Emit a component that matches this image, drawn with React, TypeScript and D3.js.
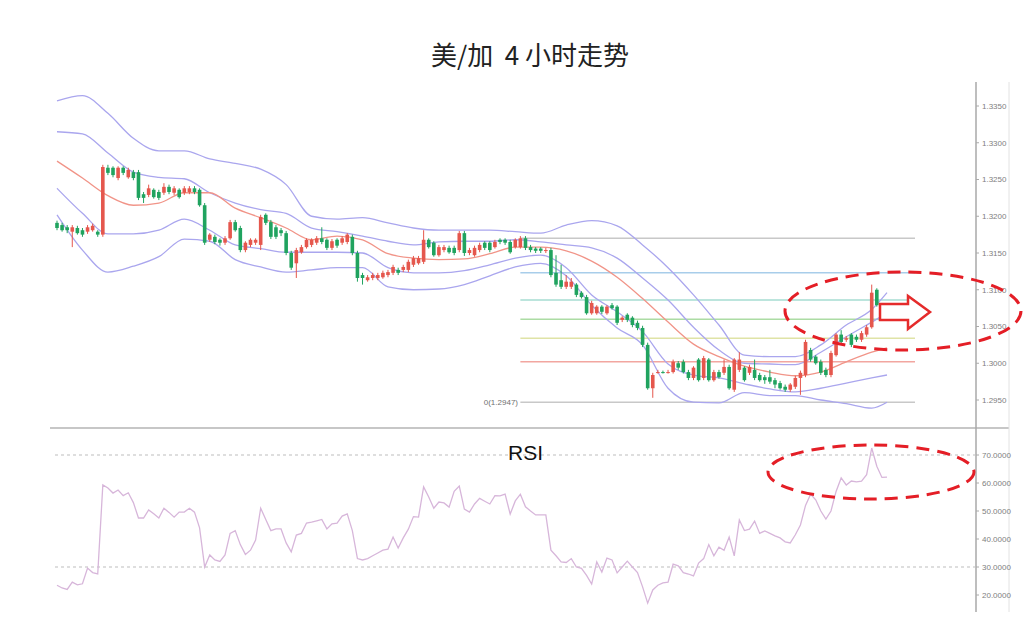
import React from "react";
import * as d3 from "d3";

// ---------- DATA ----------
// candles: [open, high, low, close]
const candles: number[][] = [
  [1.3191,1.3194,1.3181,1.3184],[1.3188,1.3191,1.3179,1.3181],[1.3185,1.3188,1.3177,1.3181],[1.3179,1.3188,1.3158,1.3185],
  [1.3184,1.3187,1.3175,1.3177],[1.3181,1.3184,1.3172,1.3175],[1.3179,1.3188,1.3176,1.3185],[1.3181,1.3190,1.3179,1.3187],
  [1.3179,1.3181,1.3172,1.3175],[1.3175,1.3270,1.3172,1.3267],[1.3266,1.3270,1.3256,1.3259],[1.3266,1.3268,1.3253,1.3256],
  [1.3252,1.3268,1.3249,1.3266],[1.3266,1.3268,1.3256,1.3259],[1.3253,1.3266,1.3251,1.3263],[1.3260,1.3263,1.3249,1.3252],
  [1.3260,1.3263,1.3222,1.3225],[1.3230,1.3233,1.3218,1.3225],[1.3229,1.3243,1.3226,1.3238],[1.3236,1.3238,1.3224,1.3226],
  [1.3233,1.3236,1.3222,1.3225],[1.3232,1.3245,1.3229,1.3240],[1.3240,1.3243,1.3230,1.3233],[1.3232,1.3241,1.3229,1.3238],
  [1.3236,1.3238,1.3224,1.3226],[1.3232,1.3241,1.3229,1.3238],[1.3233,1.3241,1.3230,1.3238],[1.3238,1.3241,1.3230,1.3233],
  [1.3236,1.3238,1.3213,1.3215],[1.3215,1.3218,1.3161,1.3164],[1.3168,1.3177,1.3165,1.3175],[1.3172,1.3175,1.3162,1.3165],
  [1.3168,1.3170,1.3160,1.3164],[1.3164,1.3173,1.3161,1.3170],[1.3170,1.3195,1.3168,1.3192],[1.3192,1.3195,1.3179,1.3181],
  [1.3184,1.3187,1.3151,1.3154],[1.3154,1.3166,1.3151,1.3164],[1.3161,1.3170,1.3158,1.3168],[1.3164,1.3170,1.3161,1.3168],
  [1.3161,1.3202,1.3154,1.3199],[1.3202,1.3204,1.3188,1.3191],[1.3192,1.3195,1.3169,1.3172],[1.3185,1.3188,1.3169,1.3172],
  [1.3181,1.3184,1.3173,1.3177],[1.3177,1.3180,1.3147,1.3150],[1.3150,1.3153,1.3127,1.3130],[1.3136,1.3157,1.3116,1.3154],
  [1.3151,1.3161,1.3149,1.3158],[1.3158,1.3170,1.3156,1.3168],[1.3161,1.3170,1.3158,1.3168],[1.3164,1.3173,1.3161,1.3170],
  [1.3170,1.3185,1.3162,1.3165],[1.3168,1.3170,1.3154,1.3157],[1.3157,1.3169,1.3154,1.3166],[1.3168,1.3170,1.3157,1.3160],
  [1.3164,1.3173,1.3161,1.3170],[1.3165,1.3177,1.3162,1.3175],[1.3172,1.3175,1.3147,1.3150],[1.3150,1.3153,1.3111,1.3116],
  [1.3120,1.3123,1.3107,1.3116],[1.3113,1.3120,1.3111,1.3117],[1.3116,1.3123,1.3113,1.3120],[1.3116,1.3123,1.3113,1.3120],
  [1.3117,1.3126,1.3115,1.3123],[1.3120,1.3127,1.3117,1.3124],[1.3123,1.3134,1.3120,1.3131],[1.3127,1.3130,1.3120,1.3123],
  [1.3127,1.3134,1.3124,1.3131],[1.3127,1.3141,1.3124,1.3138],[1.3134,1.3146,1.3131,1.3143],[1.3136,1.3146,1.3134,1.3143],
  [1.3138,1.3181,1.3135,1.3168],[1.3168,1.3170,1.3156,1.3158],[1.3164,1.3166,1.3145,1.3147],[1.3147,1.3161,1.3145,1.3158],
  [1.3154,1.3161,1.3151,1.3158],[1.3157,1.3160,1.3149,1.3151],[1.3157,1.3160,1.3147,1.3150],[1.3154,1.3180,1.3151,1.3177],
  [1.3177,1.3180,1.3146,1.3150],[1.3150,1.3157,1.3147,1.3154],[1.3147,1.3160,1.3145,1.3157],[1.3154,1.3164,1.3151,1.3161],
  [1.3164,1.3166,1.3154,1.3157],[1.3164,1.3166,1.3151,1.3154],[1.3158,1.3168,1.3156,1.3165],[1.3168,1.3170,1.3162,1.3165],
  [1.3168,1.3170,1.3161,1.3164],[1.3165,1.3168,1.3149,1.3151],[1.3158,1.3170,1.3156,1.3168],[1.3158,1.3173,1.3156,1.3170],
  [1.3170,1.3173,1.3154,1.3157],[1.3158,1.3161,1.3151,1.3154],[1.3156,1.3158,1.3150,1.3153],[1.3156,1.3158,1.3150,1.3153],
  [1.3153,1.3157,1.3150,1.3154],[1.3154,1.3157,1.3117,1.3120],[1.3123,1.3147,1.3104,1.3107],[1.3113,1.3134,1.3101,1.3104],
  [1.3104,1.3120,1.3101,1.3111],[1.3104,1.3116,1.3101,1.3111],[1.3107,1.3109,1.3090,1.3093],[1.3096,1.3098,1.3088,1.3090],
  [1.3090,1.3093,1.3066,1.3068],[1.3068,1.3085,1.3066,1.3082],[1.3068,1.3079,1.3066,1.3077],[1.3077,1.3079,1.3067,1.3070],
  [1.3068,1.3079,1.3066,1.3077],[1.3079,1.3082,1.3073,1.3075],[1.3077,1.3079,1.3052,1.3055],[1.3059,1.3064,1.3056,1.3062],
  [1.3066,1.3068,1.3056,1.3059],[1.3062,1.3064,1.3049,1.3052],[1.3055,1.3058,1.3045,1.3048],[1.3048,1.3051,1.3022,1.3025],
  [1.3025,1.3028,1.2964,1.2966],[1.2966,1.2987,1.2953,1.2984],[1.2987,1.2991,1.2986,1.2988],[1.2988,1.2990,1.2986,1.2987],
  [1.2987,1.2991,1.2986,1.2988],[1.2988,1.3005,1.2986,1.3002],[1.3000,1.3003,1.2991,1.2994],[1.3002,1.3005,1.2986,1.2988],
  [1.2988,1.2991,1.2977,1.2980],[1.2980,1.2996,1.2977,1.2994],[1.3005,1.3007,1.2975,1.2977],[1.2980,1.3010,1.2977,1.3007],
  [1.3005,1.3007,1.2975,1.2977],[1.2977,1.2991,1.2975,1.2988],[1.2988,1.2991,1.2979,1.2981],[1.2987,1.3005,1.2984,1.2995],
  [1.2995,1.2998,1.2964,1.2966],[1.2964,1.3007,1.2961,1.3005],[1.2991,1.3015,1.2988,1.3005],[1.2994,1.2996,1.2975,1.2977],
  [1.2987,1.2998,1.2984,1.2995],[1.2991,1.3005,1.2977,1.2980],[1.2984,1.2987,1.2975,1.2977],[1.2981,1.2984,1.2972,1.2977],
  [1.2981,1.2991,1.2972,1.2975],[1.2977,1.2980,1.2966,1.2971],[1.2973,1.2976,1.2964,1.2966],[1.2968,1.2971,1.2961,1.2964],
  [1.2964,1.2973,1.2961,1.2971],[1.2968,1.2983,1.2965,1.2980],[1.2980,1.2990,1.2957,1.2987],[1.2984,1.3032,1.2981,1.3029],
  [1.3018,1.3021,1.3002,1.3005],[1.3009,1.3011,1.2998,1.3000],[1.3002,1.3005,1.2984,1.2987],[1.2991,1.2994,1.2981,1.2984],
  [1.2984,1.3017,1.2981,1.3014],[1.3011,1.3041,1.3009,1.3039],[1.3039,1.3045,1.3026,1.3029],[1.3032,1.3037,1.3029,1.3034],
  [1.3039,1.3041,1.3022,1.3025],[1.3036,1.3039,1.3029,1.3032],[1.3032,1.3044,1.3029,1.3041],[1.3039,1.3052,1.3036,1.3049],
  [1.3049,1.3107,1.3047,1.3096],[1.3100,1.3102,1.3077,1.3079],[1.3079,1.3082,1.3060,1.3063],[1.3063,1.3071,1.3060,1.3068],
];

// Bollinger band lines sampled at these candle indices
const bandIdx = [0,5,10,15,20,25,30,35,40,45,50,55,60,65,70,75,80,85,90,95,100,105,110,115,120,125,130,135,140,145,150,155,160,163];
const bandUpper3 = [1.3357,1.3364,1.3340,1.3306,1.3289,1.3289,1.3278,1.3272,1.3264,1.3243,1.3200,1.3196,1.3198,1.3191,1.3184,1.3181,1.3181,1.3181,1.3179,1.3177,1.3188,1.3194,1.3187,1.3161,1.3130,1.3093,1.3052,1.3011,1.3009,1.3009,1.3025,1.3052,1.3073,1.3096];
const bandUpper2 = [1.3315,1.3312,1.3286,1.3260,1.3253,1.3251,1.3232,1.3218,1.3209,1.3204,1.3184,1.3179,1.3173,1.3166,1.3161,1.3165,1.3166,1.3166,1.3168,1.3165,1.3161,1.3157,1.3143,1.3116,1.3086,1.3049,1.3018,1.3000,1.2999,1.2998,1.3015,1.3036,1.3056,1.3068];
const bandMid = [1.3275,1.3252,1.3228,1.3215,1.3218,1.3232,1.3232,1.3211,1.3198,1.3184,1.3168,1.3173,1.3168,1.3149,1.3143,1.3141,1.3142,1.3149,1.3158,1.3158,1.3153,1.3139,1.3117,1.3088,1.3056,1.3026,1.3009,1.2996,1.2988,1.2983,1.2988,1.3002,1.3015,1.3021];
const bandLower2 = [1.3238,1.3204,1.3176,1.3176,1.3181,1.3196,1.3181,1.3161,1.3156,1.3151,1.3151,1.3151,1.3150,1.3130,1.3123,1.3123,1.3126,1.3134,1.3143,1.3147,1.3130,1.3093,1.3070,1.3043,1.2999,1.2984,1.2980,1.2972,1.2965,1.2961,1.2966,1.2973,1.2980,1.2984];
const bandLower3 = [1.3202,1.3154,1.3124,1.3132,1.3145,1.3169,1.3166,1.3141,1.3131,1.3124,1.3127,1.3130,1.3130,1.3104,1.3100,1.3101,1.3107,1.3119,1.3131,1.3136,1.3119,1.3079,1.3048,1.3025,1.2966,1.2947,1.2946,1.2960,1.2956,1.2956,1.2950,1.2945,1.2939,1.2947];

const rsi = [
  23.5,22.5,22,24.6,23.6,24,29.6,28,27.5,59.3,
  58.2,56.4,57.5,55.5,56.5,53,47.5,47.5,50.4,49,
  47.5,51,49.5,47.8,49.6,49.6,51,49.6,44,30,
  34.3,32.5,32,34.3,42,43,38,34.5,36,39.6,
  51,47,43,43.6,43.6,38.6,35.4,41.4,42,45.7,
  46,46.5,47,43.6,45.4,45.7,48.2,49,43,33,
  32.5,33,34,35,36,36.4,40.7,36.8,40.4,43.5,
  48,47.8,58.6,55,51,53.2,52.9,51.4,57,58.9,
  50.7,49.6,52.5,54.5,53.5,52.5,55.5,55.4,56,48.9,
  53.6,56,51.5,50,48.6,48.6,48.6,36,34,31.8,
  31.6,33,30,29.5,27,23.9,31.8,28.2,33.2,32.5,
  27.9,30,32.1,30,28,22.9,17.1,21.8,23.5,24.3,
  24.6,31,30.4,28,27.5,26.8,31.4,33,38,34,
  37.1,36,40.7,34,46.8,43,43.5,46.4,42,42.9,
  42,41.1,40.4,39,38.6,41.5,45,52,56,54,
  50,47.1,50,57,61.8,59.3,60.7,60.4,60.7,63,
  72.5,66,62,62.1,
];

const priceTicks = [1.2950,1.3000,1.3050,1.3100,1.3150,1.3200,1.3250,1.3300,1.3350];
const rsiTicks = [20,30,40,50,60,70];
const rsiLevels = [30,70];
const fibLevels = [1.2947,1.3002,1.3034,1.3060,1.3086,1.3123,1.3170];
const fibColors = ["#c8c8c8","#f2a6a0","#dfe3a6","#acdca4","#a6dcd2","#a8cdea","#c8c8c8"];
const fibStart = 91; // candle index where the retracement starts
const fibEnd = 168.5;

export default function App() {
  const x = d3.scaleLinear().domain([0, candles.length - 1]).range([57, 887]);
  const y = d3.scaleLinear().domain([1.295, 1.335]).range([400, 106]);
  const yr = d3.scaleLinear().domain([30, 70]).range([567, 455]);

  const bandLine = d3
    .line<number>()
    .x((_, i) => x(bandIdx[i]))
    .y((d) => y(d))
    .curve(d3.curveMonotoneX);
  const rsiLine = d3
    .line<number>()
    .x((_, i) => x(i))
    .y((d) => yr(d));

  const bw = 3.6;
  const red = "#e5574d";
  const green = "#20a35f";
  const blue = "#aaa6ee";

  return (
    <svg width={1024} height={624} style={{ position: "absolute", left: 0, top: 0, background: "#fff" }}
      fontFamily="'Liberation Sans', Arial, sans-serif">
      <defs>
        <clipPath id="mainClip"><rect x={50} y={82} width={926} height={346} /></clipPath>
        <clipPath id="rsiClip"><rect x={50} y={429} width={926} height={183} /></clipPath>
      </defs>
      <rect x={0} y={0} width={1024} height={624} fill="#fff" />

      {/* title */}
      <text x={530} y={65} textAnchor="middle" fontSize={26} fill="#222"
        fontFamily="'Noto Sans CJK SC', sans-serif" style={{ whiteSpace: "pre" }}>
        {"美/加  4 小时走势"}
      </text>

      {/* frame lines */}
      <line x1={50} x2={1009} y1={428} y2={428} stroke="#b4b4b4" strokeWidth={1.5} />
      <line x1={976} x2={976} y1={82} y2={612} stroke="#a8a8a8" strokeWidth={1.5} />
      <line x1={1009} x2={1009} y1={82} y2={612} stroke="#e2e2e2" strokeWidth={1} />

      {/* price axis */}
      {priceTicks.map((t) => (
        <g key={t}>
          <line x1={976} x2={979} y1={y(t)} y2={y(t)} stroke="#aaa" />
          <text x={982} y={y(t)} dy="0.35em" fontSize={8} fill="#808080">{t.toFixed(4)}</text>
        </g>
      ))}
      {/* rsi axis */}
      {rsiTicks.map((t) => (
        <g key={t}>
          <line x1={976} x2={979} y1={yr(t)} y2={yr(t)} stroke="#aaa" />
          <text x={982} y={yr(t)} dy="0.35em" fontSize={8} fill="#808080">{t.toFixed(4)}</text>
        </g>
      ))}

      <g clipPath="url(#mainClip)">
        {/* fibonacci */}
        {fibLevels.map((f, i) => (
          <line key={f} x1={x(fibStart)} x2={x(fibEnd)} y1={y(f)} y2={y(f)} stroke={fibColors[i]} strokeWidth={1.5} />
        ))}
        {/* bands */}
        <path d={bandLine(bandUpper3) || ""} fill="none" stroke={blue} strokeWidth={1.3} />
        <path d={bandLine(bandUpper2) || ""} fill="none" stroke={blue} strokeWidth={1.3} />
        <path d={bandLine(bandLower2) || ""} fill="none" stroke={blue} strokeWidth={1.3} />
        <path d={bandLine(bandLower3) || ""} fill="none" stroke={blue} strokeWidth={1.3} />
        <path d={bandLine(bandMid) || ""} fill="none" stroke="#f19488" strokeWidth={1.3} />
        {/* candles */}
        {candles.map(([o, h, l, c], i) => {
          const col = c >= o ? red : green;
          const top = y(Math.max(o, c));
          const bot = y(Math.min(o, c));
          return (
            <g key={i}>
              <line x1={x(i)} x2={x(i)} y1={y(h)} y2={y(l)} stroke={col} strokeWidth={1} />
              <rect x={x(i) - bw / 2} y={top} width={bw} height={Math.max(1, bot - top)} fill={col} />
            </g>
          );
        })}
      </g>
      <text x={518} y={y(fibLevels[0])} dy="0.35em" textAnchor="end" fontSize={8} fill="#707070">
        {`0(${fibLevels[0].toFixed(4)})`}
      </text>

      {/* RSI panel */}
      {rsiLevels.map((r) => (
        <line key={r} x1={55} x2={976} y1={yr(r)} y2={yr(r)} stroke="#bdbdbd" strokeWidth={1} strokeDasharray="3,3" />
      ))}
      <g clipPath="url(#rsiClip)">
        <path d={rsiLine(rsi) || ""} fill="none" stroke="#d7b6da" strokeWidth={1.3} />
      </g>
      <text x={508} y={460} fontSize={21} fill="#111">RSI</text>

      {/* annotations */}
      <ellipse cx={903} cy={311} rx={118} ry={39} fill="none" stroke="#e41e26" strokeWidth={3} strokeDasharray="13,8" />
      <ellipse cx={871} cy={472} rx={103} ry={27} fill="none" stroke="#e41e26" strokeWidth={3} strokeDasharray="13,8" />
      <path d="M880,304 L908,304 L908,296 L930,312 L908,329 L908,320 L880,320 Z" fill="#fff" stroke="#e52b2b" strokeWidth={2.5} strokeLinejoin="miter" />
    </svg>
  );
}
